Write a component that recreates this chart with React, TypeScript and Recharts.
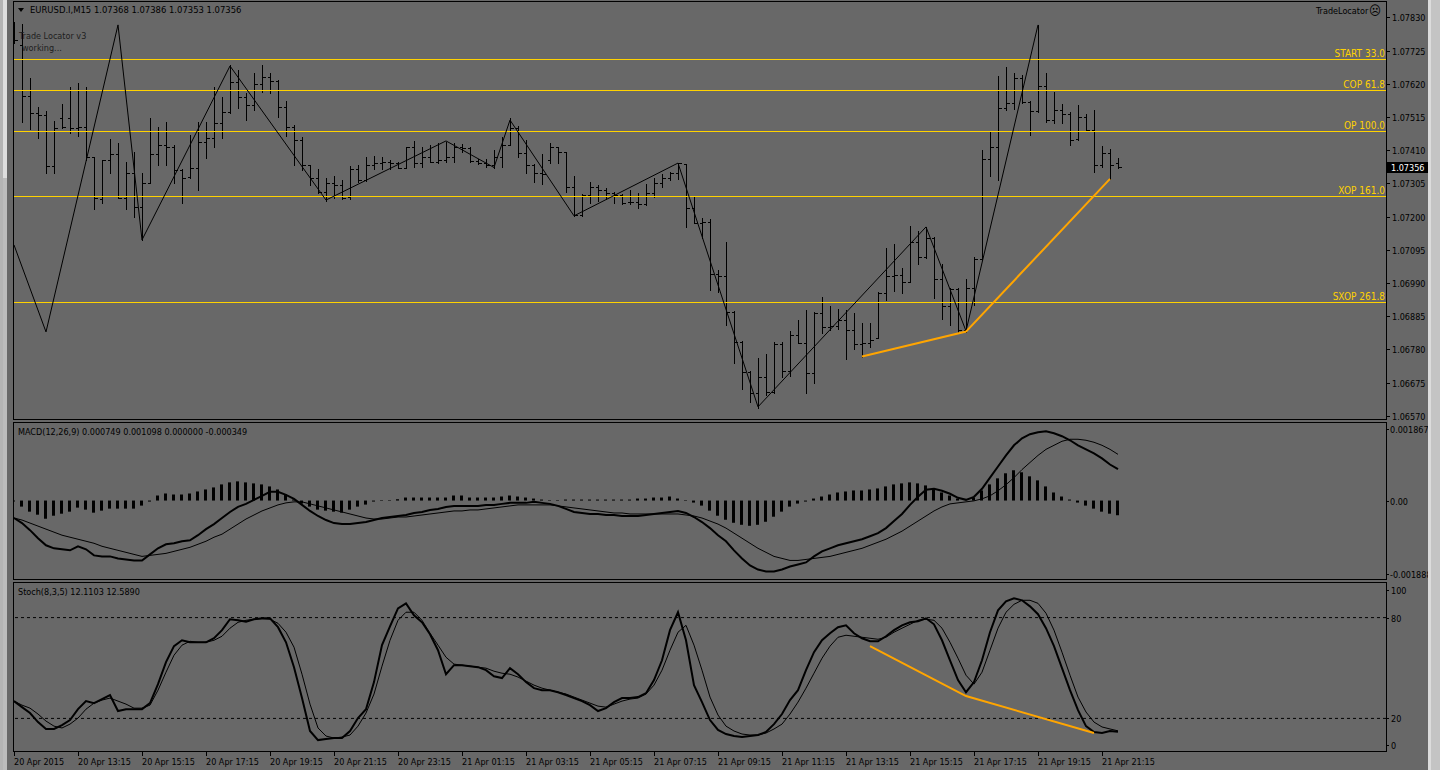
import { ComposedChart, Bar, Line, XAxis, YAxis, ReferenceLine } from 'recharts'

// EURUSD M15 bars (bar 0 = 20 Apr 11:15)
const opens = [
  1.07806, 1.07743, 1.07581, 1.07528, 1.07521, 1.0736, 1.07512, 1.07512, 1.0748, 1.07483,
  1.07388, 1.07256, 1.07379, 1.07398, 1.07259, 1.07338, 1.0723, 1.07306, 1.07398, 1.07426,
  1.0742, 1.07347, 1.07325, 1.07354, 1.07436, 1.07448, 1.07496, 1.07531, 1.07626, 1.07578,
  1.07553, 1.07619, 1.07641, 1.07629, 1.07547, 1.07483, 1.07442, 1.07363, 1.07322, 1.07278,
  1.07306, 1.073, 1.07262, 1.0735, 1.07316, 1.07363, 1.07369, 1.07373, 1.07369, 1.07354,
  1.0742, 1.07369, 1.07388, 1.07373, 1.07379, 1.07388, 1.0742, 1.07417, 1.07376, 1.07369,
  1.07363, 1.07388, 1.07426, 1.0748, 1.07401, 1.07363, 1.07338, 1.0738, 1.0742, 1.07404,
  1.07294, 1.07205, 1.07268, 1.07294, 1.07284, 1.07275, 1.07268, 1.07246, 1.07246, 1.0724,
  1.07275, 1.07306, 1.07322, 1.07338, 1.07366, 1.07227, 1.0718, 1.07183, 1.07018, 1.07012,
  1.06898, 1.06803, 1.06708, 1.06642, 1.06693, 1.06645, 1.06797, 1.06712, 1.06825, 1.068,
  1.06705, 1.06895, 1.06851, 1.06854, 1.06873, 1.06841, 1.06797, 1.068, 1.06816, 1.06958,
  1.07012, 1.07015, 1.06993, 1.0712, 1.07072, 1.07132, 1.07002, 1.06917, 1.06971, 1.06841,
  1.06974, 1.07066, 1.07382, 1.0742, 1.07543, 1.07559, 1.07638, 1.07562, 1.07534, 1.07613,
  1.07505, 1.07537, 1.07524, 1.07445, 1.07515, 1.07474, 1.07363, 1.07401, 1.07368,
]
const highs = [
  1.07816, 1.07809, 1.07638, 1.07547, 1.07534, 1.07502, 1.07556, 1.0761, 1.07622, 1.0761,
  1.07388, 1.07379, 1.07445, 1.07433, 1.07373, 1.07404, 1.07338, 1.07512, 1.07483, 1.07499,
  1.07425, 1.0735, 1.07458, 1.07499, 1.07499, 1.0761, 1.07578, 1.07679, 1.07664, 1.07591,
  1.07654, 1.07679, 1.07654, 1.07632, 1.07565, 1.0749, 1.07452, 1.07363, 1.0735, 1.07322,
  1.07328, 1.07316, 1.0736, 1.07363, 1.07388, 1.07392, 1.07388, 1.07379, 1.07373, 1.0742,
  1.07439, 1.0742, 1.07426, 1.07433, 1.07436, 1.07433, 1.0743, 1.0742, 1.07382, 1.07382,
  1.0741, 1.07452, 1.07512, 1.07485, 1.07442, 1.07366, 1.07398, 1.07433, 1.0742, 1.07404,
  1.07328, 1.07271, 1.07309, 1.073, 1.0729, 1.07278, 1.07271, 1.07284, 1.07275, 1.07303,
  1.07322, 1.07335, 1.07341, 1.07369, 1.07366, 1.07262, 1.07196, 1.07192, 1.07031, 1.0712,
  1.06901, 1.06806, 1.06711, 1.06753, 1.06765, 1.06803, 1.06803, 1.06838, 1.06873, 1.06905,
  1.06898, 1.06946, 1.06917, 1.06908, 1.06905, 1.06895, 1.06863, 1.06863, 1.06961, 1.07101,
  1.07113, 1.07037, 1.0717, 1.07154, 1.07167, 1.07135, 1.0705, 1.06974, 1.06974, 1.07002,
  1.07072, 1.0741, 1.07468, 1.07645, 1.07673, 1.07654, 1.07648, 1.07565, 1.07806, 1.07654,
  1.07594, 1.07556, 1.07531, 1.07553, 1.07524, 1.07537, 1.07423, 1.07414, 1.07386,
]
const lows = [
  1.07748, 1.075, 1.07477, 1.07448, 1.07338, 1.07338, 1.0748, 1.07464, 1.07455, 1.07379,
  1.07224, 1.07243, 1.07338, 1.07259, 1.07224, 1.07199, 1.07126, 1.07306, 1.07363, 1.07363,
  1.07306, 1.07243, 1.07322, 1.07284, 1.07385, 1.0742, 1.07448, 1.07528, 1.07543, 1.07505,
  1.07537, 1.07594, 1.07591, 1.07515, 1.07455, 1.07363, 1.07347, 1.073, 1.07275, 1.07249,
  1.07259, 1.07256, 1.07256, 1.07309, 1.07312, 1.0735, 1.0735, 1.0735, 1.07354, 1.07354,
  1.07357, 1.07357, 1.07373, 1.07369, 1.07373, 1.07373, 1.07404, 1.07373, 1.07366, 1.07357,
  1.07354, 1.07357, 1.07426, 1.07388, 1.07338, 1.07309, 1.07303, 1.07369, 1.07369, 1.07278,
  1.07202, 1.07202, 1.07243, 1.07249, 1.07256, 1.07243, 1.0724, 1.0724, 1.07227, 1.07237,
  1.07262, 1.07294, 1.07316, 1.07319, 1.07167, 1.0718, 1.07132, 1.06968, 1.06961, 1.06857,
  1.06737, 1.06655, 1.06614, 1.06595, 1.06636, 1.06642, 1.06693, 1.06696, 1.068, 1.06642,
  1.06674, 1.06832, 1.06841, 1.06844, 1.0675, 1.06781, 1.06756, 1.06787, 1.06816, 1.06936,
  1.06965, 1.06958, 1.06993, 1.0705, 1.07069, 1.06942, 1.06876, 1.06857, 1.06835, 1.06835,
  1.0692, 1.07063, 1.07328, 1.07316, 1.07537, 1.0754, 1.07559, 1.07458, 1.07531, 1.07499,
  1.07496, 1.07496, 1.07426, 1.07442, 1.07474, 1.07341, 1.07357, 1.07319, 1.07353,
]
const closes = [
  1.07758, 1.07581, 1.07528, 1.07521, 1.0736, 1.0748, 1.07483, 1.0748, 1.07483, 1.07388,
  1.07259, 1.07379, 1.07398, 1.07259, 1.07338, 1.0723, 1.07306, 1.07398, 1.07426, 1.0742,
  1.07347, 1.07322, 1.07354, 1.07436, 1.07448, 1.07496, 1.07531, 1.07626, 1.07578, 1.07553,
  1.07619, 1.07641, 1.07629, 1.07547, 1.07483, 1.07442, 1.07363, 1.07322, 1.07278, 1.07306,
  1.073, 1.07259, 1.0735, 1.07316, 1.07363, 1.07369, 1.07373, 1.07369, 1.07354, 1.0742,
  1.07369, 1.07388, 1.07373, 1.07379, 1.07388, 1.0742, 1.07417, 1.07376, 1.07369, 1.07363,
  1.07388, 1.07426, 1.0748, 1.07401, 1.07363, 1.07338, 1.07335, 1.0742, 1.07404, 1.07294,
  1.07205, 1.07268, 1.07294, 1.07284, 1.07275, 1.07268, 1.07243, 1.07246, 1.0724, 1.07275,
  1.07306, 1.07322, 1.07338, 1.07369, 1.07227, 1.0718, 1.07183, 1.07018, 1.07012, 1.06898,
  1.06803, 1.06708, 1.06642, 1.06693, 1.06645, 1.06797, 1.06712, 1.06825, 1.068, 1.06705,
  1.06895, 1.06851, 1.06854, 1.06873, 1.06841, 1.06797, 1.068, 1.0681, 1.06958, 1.07012,
  1.07015, 1.06993, 1.0712, 1.07072, 1.07132, 1.07002, 1.06917, 1.06971, 1.06841, 1.06974,
  1.07066, 1.07382, 1.0742, 1.07543, 1.07559, 1.07638, 1.07562, 1.07534, 1.07613, 1.07505,
  1.07537, 1.07524, 1.07442, 1.07515, 1.07474, 1.07363, 1.07401, 1.07363, 1.07356,
]

// zigzag pivots and the orange trend lines, as [bar, value]
const zigzag: [number, number][] = [
  [0, 1.0711], [4, 1.06835], [13, 1.07806], [16, 1.07126], [27, 1.07676], [39, 1.07252],
  [54, 1.07439], [60, 1.07355], [62, 1.07505], [70, 1.07202], [83, 1.07369], [93, 1.06598],
  [114, 1.07167], [119, 1.06838], [128, 1.07806],
]
const priceTrend: [number, number][] = [[106, 1.06757], [119, 1.06836], [137, 1.07319]]
const stochTrend: [number, number][] = [[107, 63.0], [119, 33.3], [135, 11.3]]

const levels = [
  { name: 'START 33.0', price: 1.076972 },
  { name: 'COP 61.8', price: 1.075991 },
  { name: 'OP 100.0', price: 1.074695 },
  { name: 'XOP 161.0', price: 1.072648 },
  { name: 'SXOP 261.8', price: 1.069286 },
]
const priceTicks = [1.0783, 1.07725, 1.0762, 1.07515, 1.0741, 1.07305, 1.072, 1.07095, 1.0699, 1.06885, 1.0678, 1.06675, 1.0657]

const macdMain = [
  -0.000415, -0.000535, -0.000703, -0.000895, -0.001063, -0.001135, -0.001159, -0.001183, -0.001087, -0.001159,
  -0.001303, -0.001327, -0.001327, -0.001375, -0.001399, -0.001423, -0.001423, -0.001279, -0.001135, -0.001039,
  -0.001015, -0.000967, -0.000943, -0.000823, -0.000679, -0.000559, -0.000415, -0.000271, -0.000151, -0.000079,
  0.000017, 0.000113, 0.000209, 0.000209, 0.000137, 0.000041, -0.000103, -0.000247, -0.000367, -0.000463,
  -0.000535, -0.000559, -0.000559, -0.000535, -0.000511, -0.000463, -0.000415, -0.000391, -0.000367, -0.000343,
  -0.000295, -0.000271, -0.000223, -0.000199, -0.000151, -0.000127, -0.000127, -0.000127, -0.000127, -0.000103,
  -0.000103, -0.000079, -0.000055, -0.000055, -0.000055, -0.000031, -0.000055, -0.000079, -0.000127, -0.000199,
  -0.000271, -0.000295, -0.000319, -0.000319, -0.000343, -0.000343, -0.000367, -0.000367, -0.000367, -0.000343,
  -0.000319, -0.000295, -0.000271, -0.000247, -0.000295, -0.000391, -0.000511, -0.000655, -0.000823, -0.000967,
  -0.001183, -0.001375, -0.001543, -0.001639, -0.001687, -0.001687, -0.001639, -0.001567, -0.001519, -0.001471,
  -0.001327, -0.001207, -0.001135, -0.001063, -0.001015, -0.000967, -0.000919, -0.000847, -0.000775, -0.000655,
  -0.000487, -0.000319, -0.000103, 0.000089, 0.000257, 0.000281, 0.000233, 0.000161, 0.000065, 0.000017,
  0.000089, 0.000281, 0.000545, 0.000809, 0.001073, 0.001313, 0.001481, 0.001577, 0.001625, 0.001649,
  0.001601, 0.001529, 0.001433, 0.001313, 0.001217, 0.001121, 0.001001, 0.000857, 0.000749,
]
const macdSignal = [
  -0.000415, -0.000463, -0.000535, -0.000607, -0.000679, -0.000751, -0.000823, -0.000871, -0.000919, -0.000967,
  -0.001015, -0.001087, -0.001135, -0.001183, -0.001231, -0.001279, -0.001327, -0.001303, -0.001279, -0.001255,
  -0.001207, -0.001159, -0.001111, -0.001039, -0.000967, -0.000871, -0.000799, -0.000679, -0.000559, -0.000439,
  -0.000343, -0.000247, -0.000175, -0.000103, -0.000055, -0.000031, -0.000031, -0.000079, -0.000127, -0.000175,
  -0.000223, -0.000271, -0.000319, -0.000367, -0.000415, -0.000439, -0.000439, -0.000415, -0.000391, -0.000391,
  -0.000367, -0.000343, -0.000319, -0.000295, -0.000271, -0.000247, -0.000247, -0.000223, -0.000223, -0.000199,
  -0.000175, -0.000151, -0.000127, -0.000103, -0.000103, -0.000103, -0.000103, -0.000103, -0.000127, -0.000151,
  -0.000175, -0.000199, -0.000223, -0.000247, -0.000271, -0.000295, -0.000295, -0.000319, -0.000319, -0.000319,
  -0.000319, -0.000319, -0.000319, -0.000319, -0.000343, -0.000367, -0.000415, -0.000487, -0.000559, -0.000655,
  -0.000775, -0.000895, -0.001015, -0.001135, -0.001231, -0.001327, -0.001375, -0.001423, -0.001423, -0.001399,
  -0.001375, -0.001351, -0.001327, -0.001279, -0.001231, -0.001183, -0.001135, -0.001063, -0.000991, -0.000919,
  -0.000823, -0.000727, -0.000607, -0.000487, -0.000367, -0.000247, -0.000151, -0.000079, -0.000055, -0.000031,
  -0.000007, 0.000041, 0.000113, 0.000233, 0.000377, 0.000545, 0.000737, 0.000905, 0.001073, 0.001217,
  0.001313, 0.001409, 0.001457, 0.001457, 0.001433, 0.001385, 0.001313, 0.001217, 0.001098,
]
const macdHist = [
  -0.000024, -0.000144, -0.000264, -0.000336, -0.000432, -0.00036, -0.000312, -0.000264, -0.000168, -0.000216,
  -0.000288, -0.00024, -0.000192, -0.000192, -0.000192, -0.000192, -0.00012, -0.000024, 0.00012, 0.000168,
  0.000144, 0.000144, 0.000168, 0.000216, 0.000264, 0.000312, 0.000384, 0.000432, 0.000456, 0.000432,
  0.000408, 0.000384, 0.000336, 0.000264, 0.000144, 0.000024, -0.000072, -0.000144, -0.000216, -0.00024,
  -0.000264, -0.000288, -0.000216, -0.000144, -0.000096, -0.000024, 0.000012, 0.000012, 0.000032, 0.000072,
  0.000072, 0.000072, 0.000072, 0.000072, 0.000072, 0.00012, 0.00012, 0.000072, 0.000072, 0.000072,
  0.000072, 0.000096, 0.00012, 0.000096, 0.000072, 0.000048, 0.000024, 0.000012, 0.000012, 0.000024,
  0.000024, 0.000024, 0.000024, 0.000024, 0.000024, 0.000024, 0.000024, 0.000024, 0.000048, 0.000048,
  0.000072, 0.000072, 0.000096, 0.000048, 0.000012, -0.000048, -0.00012, -0.00024, -0.00036, -0.000456,
  -0.000528, -0.000576, -0.0006, -0.000576, -0.000504, -0.000384, -0.000264, -0.000144, -0.000072, -0.000024,
  0.000048, 0.000096, 0.000144, 0.000192, 0.000216, 0.00024, 0.00024, 0.000264, 0.000288, 0.000336,
  0.000384, 0.000408, 0.000432, 0.000408, 0.00036, 0.000288, 0.000192, 0.00012, 0.000048, 0,
  0.000072, 0.00024, 0.000384, 0.000528, 0.000648, 0.00072, 0.000672, 0.000576, 0.00048, 0.000336,
  0.000192, 0.000096, 0.000024, -0.000048, -0.00012, -0.000192, -0.000264, -0.000312, -0.000349,
]

const stochMain = [
  30.3, 26.7, 23.2, 17.8, 13.7, 13.7, 16.0, 19.0, 25.5, 30.3,
  29.1, 31.5, 33.9, 24.4, 25.5, 25.5, 25.5, 29.1, 40.4, 53.5,
  63.0, 66.5, 65.3, 65.3, 65.3, 67.7, 72.5, 79.0, 78.4, 77.5,
  79.0, 79.6, 79.6, 74.3, 65.3, 50.5, 32.1, 12.5, 7.1, 7.7,
  8.3, 8.3, 12.5, 20.2, 25.5, 41.6, 63.6, 74.8, 85.5, 88.5,
  81.4, 77.2, 70.1, 60.6, 46.3, 51.7, 51.7, 51.1, 50.5, 48.7,
  45.1, 44.0, 49.9, 46.3, 41.6, 38.0, 36.8, 36.8, 35.6, 33.9,
  32.1, 30.3, 27.9, 24.4, 26.1, 29.7, 32.1, 32.1, 32.7, 35.0,
  42.8, 54.6, 72.5, 83.2, 66.5, 39.8, 29.7, 19.0, 13.1, 10.7,
  9.5, 8.9, 9.5, 10.1, 11.9, 16.6, 22.6, 30.9, 36.8, 48.7,
  59.4, 66.5, 70.7, 74.3, 75.4, 70.7, 67.7, 65.9, 65.9, 68.9,
  72.5, 75.4, 77.2, 77.8, 79.6, 76.0, 66.5, 54.6, 42.8, 35.6,
  41.6, 54.6, 71.3, 84.3, 89.7, 91.5, 90.3, 86.7, 82.0, 73.7,
  63.0, 49.9, 36.8, 24.9, 15.4, 11.9, 11.3, 12.5, 12.1103,
]
const stochSignal = [
  30.3, 27.9, 26.1, 22.6, 18.4, 15.4, 14.3, 16.6, 20.2, 25.5,
  29.1, 30.9, 32.1, 30.3, 28.5, 26.1, 26.1, 27.9, 36.8, 47.5,
  57.6, 63.6, 65.9, 65.3, 65.3, 66.5, 68.9, 73.7, 77.2, 78.4,
  79.0, 79.3, 79.0, 76.6, 71.3, 62.4, 46.3, 28.5, 14.3, 9.5,
  8.3, 8.9, 10.1, 15.4, 23.2, 34.5, 51.1, 66.5, 78.4, 83.2,
  83.2, 78.4, 70.7, 63.6, 56.4, 52.3, 51.7, 51.1, 50.5, 49.9,
  48.1, 46.9, 46.3, 44.6, 42.2, 39.8, 38.0, 36.8, 35.6, 34.5,
  32.7, 30.9, 29.1, 27.3, 26.7, 28.5, 30.3, 31.5, 32.1, 34.5,
  39.8, 48.7, 60.6, 71.3, 75.4, 63.6, 48.7, 32.7, 22.0, 15.4,
  12.5, 10.7, 10.1, 10.1, 11.3, 13.7, 16.6, 22.6, 29.7, 38.0,
  46.9, 55.8, 63.0, 68.3, 69.5, 68.9, 68.3, 67.7, 67.1, 68.3,
  71.3, 73.7, 76.0, 78.4, 79.0, 78.4, 73.7, 65.3, 55.8, 45.7,
  40.4, 47.5, 60.6, 73.7, 83.2, 87.9, 90.3, 90.3, 88.5, 82.6,
  72.5, 59.4, 45.7, 32.7, 23.8, 17.8, 14.9, 13.7, 12.589,
]

const timeTicks = [0, 8, 16, 24, 32, 40, 48, 56, 64, 72, 80, 88, 96, 104, 112, 120, 128, 136]
const timeLabels = [
  '20 Apr 2015', '20 Apr 13:15', '20 Apr 15:15', '20 Apr 17:15', '20 Apr 19:15', '20 Apr 21:15',
  '20 Apr 23:15', '21 Apr 01:15', '21 Apr 03:15', '21 Apr 05:15', '21 Apr 07:15', '21 Apr 09:15',
  '21 Apr 11:15', '21 Apr 13:15', '21 Apr 15:15', '21 Apr 17:15', '21 Apr 19:15', '21 Apr 21:15',
]

const BG = '#686868'
const GOLD = '#ffd200'
const ORANGE = '#ffa500'
const FONT = "'DejaVu Sans Condensed', 'DejaVu Sans', sans-serif"
const FS = 9
const X_DOMAIN: [number, number] = [-0.125, 171.5]
const lastClose = closes[closes.length - 1]

const zzMap = new Map(zigzag)
const ptMap = new Map(priceTrend)
const stMap = new Map(stochTrend)

const rows = opens.map((o, k) => ({
  k,
  o,
  h: highs[k],
  l: lows[k],
  c: closes[k],
  range: [lows[k], highs[k]],
  zz: zzMap.has(k) ? zzMap.get(k) : null,
  pt: ptMap.has(k) ? ptMap.get(k) : null,
  macd: macdMain[k],
  sig: macdSignal[k],
  hist: macdHist[k],
  sk: stochMain[k],
  sd: stochSignal[k],
  st: stMap.has(k) ? stMap.get(k) : null,
}))

function OhlcBar(props: any) {
  const { x, y, width, height, payload } = props
  if (payload == null || height == null) return null
  const cx = Math.round(x + width / 2) + 0.5
  const span = payload.h - payload.l
  const at = (v: number) => Math.round(span === 0 ? y : y + ((payload.h - v) / span) * height) + 0.5
  return (
    <g stroke="#000" strokeWidth={1} shapeRendering="crispEdges">
      <line x1={cx} x2={cx} y1={Math.round(y)} y2={Math.round(y + height) + 1} />
      <line x1={cx - 3} x2={cx} y1={at(payload.o)} y2={at(payload.o)} />
      <line x1={cx} x2={cx + 3} y1={at(payload.c)} y2={at(payload.c)} />
    </g>
  )
}

function PriceTick(props: any) {
  const { y, payload } = props
  const v = payload.value as number
  const py = Math.round(y)
  if (v === lastClose) {
    return (
      <g>
        <rect x={1387} y={py - 5} width={42} height={11} fill="#000" />
        <text x={1391} y={py + 3.5} fill="#fff" fontFamily={FONT} fontSize={FS}>
          {v.toFixed(5)}
        </text>
      </g>
    )
  }
  return (
    <g>
      <line x1={1386} x2={1390} y1={py + 0.5} y2={py + 0.5} stroke="#000" />
      <text x={1392} y={py + 3.5} fill="#000" fontFamily={FONT} fontSize={FS}>
        {v.toFixed(5)}
      </text>
    </g>
  )
}

function MacdTick(props: any) {
  const { y, payload } = props
  const v = payload.value as number
  const dy = v > 0 ? 7 : v < 0 ? -6 : 0
  const py = Math.round(y) + dy
  return (
    <g>
      <line x1={1386} x2={1389} y1={py + 0.5} y2={py + 0.5} stroke="#000" />
      <text x={1390} y={py + 3.5} fill="#000" fontFamily={FONT} fontSize={FS}>
        {v === 0 ? '0.00' : v.toFixed(6)}
      </text>
    </g>
  )
}

function StochTick(props: any) {
  const { y, payload } = props
  const v = payload.value as number
  const dy = v === 100 ? 6 : v === 0 ? -7 : 0
  const py = Math.round(y) + dy
  return (
    <g>
      <line x1={1386} x2={1389} y1={py + 0.5} y2={py + 0.5} stroke="#000" />
      <text x={1391} y={py + 3.5} fill="#000" fontFamily={FONT} fontSize={FS}>
        {v}
      </text>
    </g>
  )
}

function TimeTick(props: any) {
  const { x, payload } = props
  const i = timeTicks.indexOf(payload.value)
  const px = Math.round(x) + 0.5
  return (
    <g>
      <line x1={px} x2={px} y1={168} y2={172} stroke="#000" />
      <text x={px - 0.5} y={181} fill="#000" fontFamily={FONT} fontSize={FS}>
        {timeLabels[i]}
      </text>
    </g>
  )
}

function LevelLabel(props: any) {
  const { viewBox, text } = props
  if (!viewBox) return null
  return (
    <text
      x={viewBox.x + viewBox.width - 1}
      y={viewBox.y - 2}
      textAnchor="end"
      fill={GOLD}
      fontFamily={FONT}
      fontSize={10}
    >
      {text}
    </text>
  )
}

function PriceChart() {
  return (
    <ComposedChart width={1440} height={420} data={rows} margin={{ top: 2, right: 0, bottom: 0, left: 13 }}>
      <XAxis dataKey="k" type="number" domain={X_DOMAIN} allowDataOverflow hide />
      <YAxis
        orientation="right"
        width={54}
        type="number"
        domain={[1.065564, 1.078784]}
        allowDataOverflow
        ticks={[...priceTicks, lastClose]}
        interval={0}
        axisLine={false}
        tickLine={false}
        tick={<PriceTick />}
      />
      {levels.map((lv) => (
        <ReferenceLine
          key={lv.name}
          y={lv.price}
          stroke={GOLD}
          strokeWidth={1}
          shapeRendering="crispEdges"
          label={<LevelLabel text={lv.name} />}
        />
      ))}
      <Bar dataKey="range" barSize={6} shape={<OhlcBar />} isAnimationActive={false} />
      <Line
        dataKey="zz"
        type="linear"
        stroke="#000"
        strokeWidth={1}
        dot={false}
        connectNulls
        isAnimationActive={false}
      />
      <Line
        dataKey="pt"
        type="linear"
        stroke={ORANGE}
        strokeWidth={2}
        dot={false}
        connectNulls
        isAnimationActive={false}
      />
    </ComposedChart>
  )
}

function MacdChart() {
  return (
    <ComposedChart width={1440} height={158} data={rows} margin={{ top: 0, right: 0, bottom: 0, left: 13 }}>
      <XAxis dataKey="k" type="number" domain={X_DOMAIN} allowDataOverflow hide />
      <YAxis
        orientation="right"
        width={54}
        type="number"
        domain={[-0.001888, 0.001867]}
        allowDataOverflow
        ticks={[0.001867, 0, -0.001888]}
        interval={0}
        axisLine={false}
        tickLine={false}
        tick={<MacdTick />}
      />
      <Bar dataKey="hist" barSize={3} fill="#000" isAnimationActive={false} />
      <Line dataKey="macd" type="linear" stroke="#000" strokeWidth={2} dot={false} isAnimationActive={false} />
      <Line dataKey="sig" type="linear" stroke="#000" strokeWidth={1} dot={false} isAnimationActive={false} />
    </ComposedChart>
  )
}

function StochChart() {
  return (
    <ComposedChart width={1440} height={186} data={rows} margin={{ top: 0, right: 0, bottom: 0, left: 13 }}>
      <XAxis
        dataKey="k"
        type="number"
        domain={X_DOMAIN}
        allowDataOverflow
        ticks={timeTicks}
        interval={0}
        height={18}
        axisLine={false}
        tickLine={false}
        tick={<TimeTick />}
      />
      <YAxis
        orientation="right"
        width={54}
        type="number"
        domain={[0, 100]}
        allowDataOverflow
        ticks={[100, 80, 20, 0]}
        interval={0}
        axisLine={false}
        tickLine={false}
        tick={<StochTick />}
      />
      <ReferenceLine y={80} stroke="#000" strokeDasharray="3 3" />
      <ReferenceLine y={20} stroke="#000" strokeDasharray="3 3" />
      <Line dataKey="sk" type="linear" stroke="#000" strokeWidth={2} dot={false} isAnimationActive={false} />
      <Line dataKey="sd" type="linear" stroke="#000" strokeWidth={1} dot={false} isAnimationActive={false} />
      <Line
        dataKey="st"
        type="linear"
        stroke={ORANGE}
        strokeWidth={2}
        dot={false}
        connectNulls
        isAnimationActive={false}
      />
    </ComposedChart>
  )
}

export default function App() {
  const text = { fontFamily: FONT, fontSize: FS }
  return (
    <div style={{ position: 'absolute', left: 0, top: 0, width: 1440, height: 770, background: BG, overflow: 'hidden' }}>
      <div style={{ position: 'absolute', left: 0, top: 0 }}>
        <PriceChart />
      </div>
      <div style={{ position: 'absolute', left: 0, top: 422 }}>
        <MacdChart />
      </div>
      <div style={{ position: 'absolute', left: 0, top: 584 }}>
        <StochChart />
      </div>
      <svg
        width={1440}
        height={770}
        style={{ position: 'absolute', left: 0, top: 0, pointerEvents: 'none' }}
      >
        {/* window edges */}
        <rect x={0} y={0} width={3} height={770} fill="#b4b4b4" />
        <rect x={3} y={0} width={4} height={178} fill="#dedede" />
        <rect x={3} y={178} width={4} height={592} fill="#bcbcbc" />
        <rect x={1428} y={0} width={3} height={770} fill="#dcdcdc" />
        <rect x={1431} y={0} width={9} height={770} fill="#c4c4c4" />
        {/* panel frames */}
        <g fill="none" stroke="#000" strokeWidth={1} shapeRendering="crispEdges">
          <rect x={13.5} y={1.5} width={1373} height={418} />
          <rect x={13.5} y={422.5} width={1373} height={157} />
          <rect x={13.5} y={582.5} width={1373} height={169} />
        </g>
        <polygon points="18,8 24,8 21,12" fill="#000" />
        <text x={30} y={13} fill="#000" fontFamily={FONT} fontSize={9.4}>
          EURUSD.I,M15  1.07368 1.07386 1.07353 1.07356
        </text>
        <text x={19} y={38.5} fill="#1e1e1e" {...text}>
          Trade Locator v3
        </text>
        <text x={22} y={50.5} fill="#1e1e1e" {...text}>
          working...
        </text>
        <text x={1316} y={14} fill="#000" {...text}>
          TradeLocator
        </text>
        <text x={1369} y={15} fill="#000" fontFamily={FONT} fontSize={13}>
          ☹
        </text>
        <text x={18} y={435} fill="#000" {...text}>
          MACD(12,26,9) 0.000749 0.001098 0.000000 -0.000349
        </text>
        <text x={18} y={595} fill="#000" {...text}>
          Stoch(8,3,5) 12.1103 12.5890
        </text>
      </svg>
    </div>
  )
}
